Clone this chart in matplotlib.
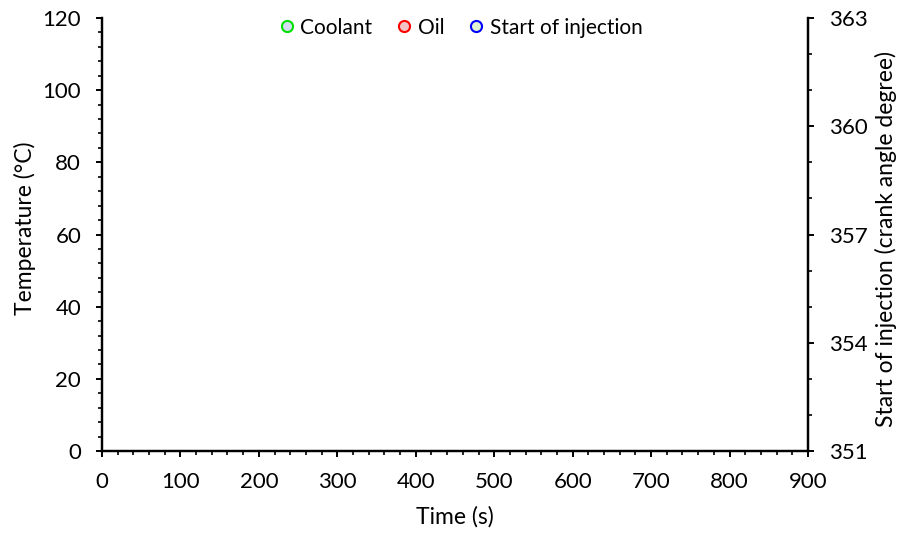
import matplotlib
matplotlib.use("Agg")
import matplotlib.pyplot as plt
from matplotlib.ticker import MultipleLocator

plt.rcParams['font.family'] = ['Lato', 'DejaVu Sans']

# Data (the reference chart shows no plotted points)
time_coolant = []
temp_coolant = []
time_oil = []
temp_oil = []
time_soi = []
soi_values = []

fig = plt.figure(figsize=(9.04, 5.33), dpi=100)
ax = fig.add_axes([0.1128, 0.1538, 0.781, 0.8124])
ax2 = ax.twinx()

h1, = ax.plot(time_coolant, temp_coolant, 'o', ms=8, mfc='#d4def0', mec='#00e000', mew=1.5, label='Coolant')
h2, = ax.plot(time_oil, temp_oil, 'o', ms=8, mfc='#f4c4c4', mec='#ff0000', mew=1.5, label='Oil')
h3, = ax2.plot(time_soi, soi_values, 'o', ms=8, mfc='#def0d0', mec='#0000ff', mew=1.5, label='Start of injection')

ax.set_xlim(0, 900)
ax.set_ylim(0, 120)
ax2.set_ylim(351, 363)

ax.xaxis.set_major_locator(MultipleLocator(100))
ax.xaxis.set_minor_locator(MultipleLocator(20))
ax.yaxis.set_major_locator(MultipleLocator(20))
ax.yaxis.set_minor_locator(MultipleLocator(4))
ax2.yaxis.set_major_locator(MultipleLocator(3))
ax2.yaxis.set_minor_locator(MultipleLocator(1))

for a in (ax, ax2):
    for s in a.spines.values():
        s.set_linewidth(1.75)
    a.spines['top'].set_visible(False)
ax.spines['right'].set_visible(False)
ax2.spines['left'].set_visible(False)
ax2.spines['bottom'].set_visible(False)

FS_TICK = 16
FS_LAB = 16.5
for a in (ax, ax2):
    a.tick_params(which='major', direction='out', length=4.5, width=1.4, labelsize=FS_TICK, pad=10.5)
    a.tick_params(which='minor', direction='out', length=2.6, width=1.2)

ax.set_xlabel('Time (s)', fontsize=FS_LAB, labelpad=10.5)
ax.set_ylabel('Temperature (°C)', fontsize=FS_LAB, labelpad=5, y=0.515)
ax2.set_ylabel('Start of injection (crank angle degree)', fontsize=FS_LAB, labelpad=5, y=0.49)

fig.legend(handles=[h1, h2, h3], loc='center', bbox_to_anchor=(0.508, 1 - 27.5 / 533), ncol=3,
           frameon=False, fontsize=15, handletextpad=0.17, columnspacing=1.0, handlelength=1.0,
           borderpad=0, borderaxespad=0)

fig.savefig('out.png', dpi=100)
